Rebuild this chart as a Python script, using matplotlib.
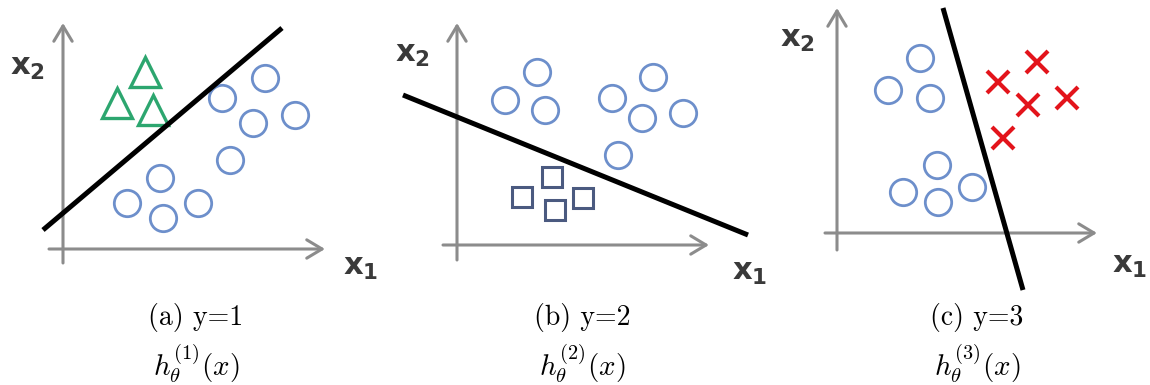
import matplotlib
matplotlib.use("Agg")
import matplotlib.pyplot as plt

plt.rcParams["mathtext.fontset"] = "cm"

W, H = 1150, 385

# panel data, in pixels relative to each panel's axis origin (x right, y up)
tri_x = [82, 54, 90]
tri_y = [177, 146, 139]
circ1_x = [202, 159, 232, 190, 167, 97, 64, 100, 135]
circ1_y = [171, 151, 134, 126, 89, 71, 46, 31, 46]
line1_x = [-20, 219]
line1_y = [19, 221]

circ2_x = [80, 48, 88, 155, 196, 185, 226, 161]
circ2_y = [173, 145, 135, 147, 168, 127, 132, 90]
sq_x = [95, 65, 98, 126]
sq_y = [68, 48, 35, 47]
line2_x = [-54, 291]
line2_y = [150, 10]

circ3_x = [83, 51, 93, 100, 66, 101, 135]
circ3_y = [175, 143, 135, 68, 41, 31, 46]
cross_x = [200, 161, 191, 230, 166]
cross_y = [171, 151, 128, 135, 95]
line3_x = [106, 186]
line3_y = [225, -57]

captions = ["(a) y=1", "(b) y=2", "(c) y=3"]
hyps = [r"$h_\theta^{(1)}(x)$", r"$h_\theta^{(2)}(x)$", r"$h_\theta^{(3)}(x)$"]

BLUE = "#6d8fcb"
GREEN = "#2ca66f"
SLATE = "#4b5a80"
RED = "#e3141b"
GRAY = "#8c8c8c"
LABEL = "#3a3a3a"

fig = plt.figure(figsize=(W / 100, H / 100), dpi=100)


def make_panel(left, right, ox, oy):
    ax = fig.add_axes([left / W, 0, (right - left) / W, 1])
    ax.set_xlim(left - ox, right - ox)
    ax.set_ylim(oy - H, oy)
    ax.axis("off")
    return ax


def draw_axes(ax, x_lo, x_hi, y_lo, y_hi, x2_pos, x1_pos):
    arrow = dict(arrowstyle="->, head_length=0.55, head_width=0.33", color=GRAY,
                 lw=2.2, mutation_scale=20, shrinkA=0, shrinkB=0)
    ax.annotate("", xy=(0, y_hi), xytext=(0, y_lo), arrowprops=arrow, zorder=1)
    ax.annotate("", xy=(x_hi, 0), xytext=(x_lo, 0), arrowprops=arrow, zorder=1)
    ax.text(*x2_pos, r"$\mathbf{x}_\mathbf{2}$", fontsize=22, color=LABEL,
            math_fontfamily="dejavusans", ha="left", va="baseline")
    ax.text(*x1_pos, r"$\mathbf{x}_\mathbf{1}$", fontsize=22, color=LABEL,
            math_fontfamily="dejavusans", ha="left", va="baseline")


open_circle = dict(marker="o", ms=19, mfc="none", mec=BLUE, mew=2.0, ls="none", zorder=3)

# panel (a)
ax1 = make_panel(0, 383, 63, 249)
draw_axes(ax1, -14, 262, -14, 226, (-53, 174), (280, -26))
ax1.plot(tri_x, tri_y, marker="^", ms=22, mfc="none", mec=GREEN, mew=2.4, ls="none", zorder=3)
ax1.plot(circ1_x, circ1_y, **open_circle)
ax1.plot(line1_x, line1_y, color="black", lw=3.6, solid_capstyle="butt", zorder=4)

# panel (b)
ax2 = make_panel(383, 775, 457, 245)
draw_axes(ax2, -14, 252, -15, 222, (-62, 183), (275, -35))
ax2.plot(circ2_x, circ2_y, **open_circle)
ax2.plot(sq_x, sq_y, marker="s", ms=14, mfc="none", mec=SLATE, mew=2.2, ls="none", zorder=3)
ax2.plot(line2_x, line2_y, color="black", lw=3.6, solid_capstyle="butt", zorder=4)

# panel (c)
ax3 = make_panel(775, 1150, 837, 233)
draw_axes(ax3, -12, 260, -17, 225, (-57, 186), (275, -40))
ax3.plot(circ3_x, circ3_y, **open_circle)
ax3.plot(cross_x, cross_y, marker="x", ms=16, mec=RED, mew=3.0, ls="none", zorder=3)
ax3.plot(line3_x, line3_y, color="black", lw=3.6, solid_capstyle="butt", zorder=4)

# captions below each panel
for cx, cap, hyp in zip([196, 582, 977], captions, hyps):
    fig.text(cx / W, 1 - 325 / H, cap, family="cmr10", fontsize=20,
             ha="center", va="baseline")
    fig.text(cx / W, 1 - 376 / H, hyp, fontsize=21, ha="center", va="baseline")

fig.savefig("out.png", dpi=100)
